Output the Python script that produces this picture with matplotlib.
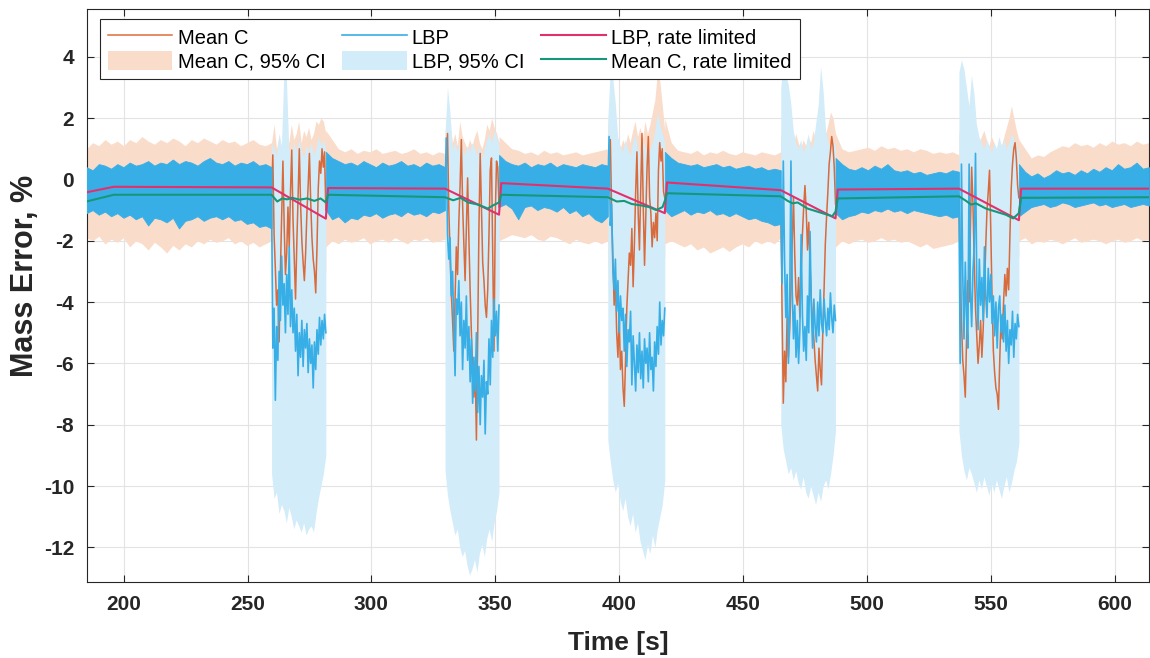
import numpy as np
import matplotlib
matplotlib.use("Agg")
import matplotlib.pyplot as plt

plt.rcParams['font.family'] = ['Liberation Sans', 'DejaVu Sans']
plt.rcParams['axes.unicode_minus'] = False

# time spans of the quiet and the disturbed parts of the run [s]
stable_span = [(185.0, 259.7), (281.6, 329.7), (351.5, 395.4), (418.4, 465.2), (487.3, 537.1), (561.3, 613.8)]
wild_span = [(259.7, 281.6), (329.7, 351.5), (395.4, 418.4), (465.2, 487.3), (537.1, 561.3)]

# quiet parts: envelope of the LBP signal and of the Mean C 95% CI
lbp_band_hi = [
    [0.4, 0.3, 0.5, 0.45, 0.35, 0.5, 0.4, 0.55, 0.45, 0.5, 0.6, 0.45, 0.55, 0.5, 0.65, 0.5, 0.6, 0.55, 0.45, 0.6, 0.7, 0.55, 0.5, 0.6, 0.45, 0.55, 0.5, 0.6, 0.45, 0.5, 0.4],
    [0.9, 0.7, 0.6, 0.5, 0.55, 0.45, 0.6, 0.5, 0.4, 0.55, 0.45, 0.5, 0.6, 0.45, 0.5, 0.4, 0.55, 0.45, 0.5, 0.4],
    [0.8, 0.6, 0.5, 0.45, 0.55, 0.4, 0.5, 0.45, 0.55, 0.4, 0.5, 0.45, 0.4, 0.5, 0.45, 0.4, 0.5, 0.45],
    [0.9, 0.7, 0.55, 0.5, 0.45, 0.5, 0.4, 0.45, 0.5, 0.4, 0.45, 0.35, 0.4, 0.45, 0.35, 0.4, 0.3, 0.35, 0.3],
    [0.7, 0.5, 0.35, 0.3, 0.4, 0.3, 0.45, 0.35, 0.5, 0.3, 0.25, 0.3, 0.2, 0.25, 0.15, 0.2, 0.25, 0.2, 0.3, 0.25],
    [0.5, 0.25, 0.1, 0.2, 0.05, 0.15, 0.3, 0.2, 0.25, 0.15, 0.3, 0.2, 0.35, 0.25, 0.4, 0.3, 0.5, 0.35, 0.4, 0.55, 0.35, 0.4],
]
lbp_band_lo = [
    [-1.1, -1.0, -1.15, -1.05, -1.2, -1.1, -1.25, -1.15, -1.3, -1.2, -1.5, -1.25, -1.3, -1.4, -1.25, -1.6, -1.35, -1.3, -1.2, -1.35, -1.25, -1.2, -1.3, -1.2, -1.35, -1.3, -1.45, -1.4, -1.55, -1.5, -1.6],
    [-1.0, -1.3, -1.2, -1.4, -1.25, -1.3, -1.15, -1.2, -1.1, -1.25, -1.15, -1.1, -1.2, -1.05, -1.15, -1.1, -1.2, -1.05, -1.1, -1.0],
    [-0.9, -0.8, -0.95, -1.3, -0.9, -0.85, -1.0, -0.9, -0.95, -1.05, -0.9, -1.1, -1.0, -1.2, -1.1, -1.3, -1.4, -1.2],
    [-1.0, -1.2, -1.1, -1.0, -1.15, -1.05, -1.1, -1.0, -1.15, -1.1, -1.2, -1.1, -1.2, -1.3, -1.25, -1.35, -1.4, -1.5, -1.45],
    [-1.1, -1.3, -1.2, -1.15, -1.05, -1.1, -1.0, -1.05, -0.95, -1.05, -1.0, -1.1, -1.0, -1.05, -1.1, -1.15, -1.2, -1.15, -1.25, -1.2],
    [-1.2, -1.05, -0.9, -0.85, -0.8, -0.9, -0.85, -0.75, -0.8, -0.9, -0.85, -0.8, -0.75, -0.85, -0.8, -0.9, -0.85, -0.8, -0.9, -0.85, -0.8, -0.85],
]
meanc_ci_hi_stable = [
    [1.0, 1.2, 1.1, 1.3, 1.15, 1.25, 1.1, 1.3, 1.2, 1.4, 1.25, 1.15, 1.3, 1.2, 1.35, 1.25, 1.1, 1.3, 1.2, 1.35, 1.25, 1.15, 1.3, 1.2, 1.25, 1.1, 1.2, 1.3, 1.15, 1.1, 1.2],
    [1.6, 1.3, 1.0, 0.9, 1.0, 0.85, 0.95, 0.9, 1.0, 0.85, 0.9, 0.95, 0.85, 0.9, 1.0, 0.85, 0.9, 0.8, 0.9, 0.85],
    [1.4, 1.2, 1.0, 0.95, 0.85, 0.9, 0.8, 0.95, 0.85, 0.9, 0.8, 0.85, 0.9, 0.8, 0.85, 0.9, 0.95, 1.0],
    [2.0, 1.2, 0.95, 0.9, 0.85, 0.95, 0.8, 0.9, 0.85, 0.95, 0.85, 0.8, 0.9, 0.85, 0.8, 0.9, 0.85, 0.8, 0.9],
    [1.5, 1.0, 0.9, 0.95, 1.0, 1.05, 0.95, 1.1, 1.0, 1.05, 0.95, 1.0, 0.9, 1.0, 0.95, 0.85, 0.9, 0.85, 0.9, 0.8],
    [1.3, 1.0, 0.7, 0.8, 0.75, 0.9, 1.0, 1.1, 1.05, 1.2, 1.1, 1.15, 1.05, 1.2, 1.1, 1.25, 1.15, 1.2, 1.1, 1.25, 1.15, 1.2],
]
meanc_ci_lo_stable = [
    [-1.9, -2.0, -1.85, -2.1, -1.95, -2.05, -1.9, -2.2, -2.0, -2.1, -2.3, -2.05, -2.2, -2.4, -2.15, -2.3, -2.1, -2.2, -2.0, -2.1, -1.95, -2.05, -2.0, -1.9, -2.1, -2.0, -2.15, -2.05, -2.2, -2.1, -2.0],
    [-2.2, -2.0, -2.1, -1.95, -2.05, -2.0, -1.9, -2.1, -2.0, -1.95, -2.05, -1.9, -2.0, -2.1, -1.95, -2.0, -1.9, -2.05, -2.0, -1.95],
    [-2.0, -1.9, -1.8, -1.85, -1.9, -1.8, -1.95, -2.0, -1.85, -1.9, -2.0, -2.1, -1.95, -2.05, -2.1, -2.0, -2.1, -2.0],
    [-2.1, -2.0, -2.1, -2.2, -2.1, -2.3, -2.2, -2.4, -2.3, -2.2, -2.35, -2.2, -2.1, -2.2, -2.0, -2.1, -2.0, -2.1, -1.9],
    [-2.2, -2.0, -2.1, -2.0, -1.95, -2.05, -2.0, -1.9, -2.0, -1.95, -2.05, -2.0, -2.1, -2.2, -2.1, -2.25, -2.2, -2.15, -2.1, -2.0],
    [-2.0, -1.9, -2.1, -2.0, -2.05, -1.95, -2.0, -2.1, -2.0, -1.9, -2.05, -2.0, -1.95, -2.0, -2.1, -2.0, -1.95, -2.05, -2.0, -1.9, -2.0, -1.95],
]

# disturbed parts: LBP and Mean C signals (~0.5 s samples)
lbp_wild = [
    [-0.6, -5.5, -4.2, -7.2, -4.8, -5.9, -3.0, -4.6, -2.5, -4.1, -3.4, -5.0, -3.1, -4.4, -2.2, -4.8, -3.6, -5.0, -4.2, -5.6, -4.4, -6.4, -5.0, -5.8, -4.6, -6.1, -4.9, -5.5, -4.7, -6.3, -5.2, -6.0, -5.4, -6.8, -5.3, -6.2, -4.9, -5.7, -4.5, -5.4, -4.6, -5.2, -4.4, -5.0],
    [-0.6, 1.35, -1.8, -2.6, -1.9, -3.8, -3.0, -4.7, -6.4, -3.9, -4.4, -3.3, -5.1, -4.0, -6.2, -4.6, -5.5, -3.8, -5.9, -4.8, -6.6, -5.2, -7.3, -5.8, -6.9, -5.0, -7.6, -6.1, -8.0, -6.4, -7.1, -5.9, -8.3, -6.6, -7.0, -5.2, -6.7, -4.6, -5.8, -3.9, -5.1, -4.3, -5.6, -4.1],
    [-0.6, 1.4, -1.5, -0.8, -2.9, -3.6, -2.6, -4.3, -3.3, -5.0, -3.8, -4.6, -4.2, -5.6, -4.4, -6.1, -4.9, -5.3, -4.3, -6.7, -5.1, -6.0, -6.9, -5.4, -6.3, -5.0, -6.5, -5.6, -6.8, -5.2, -6.0, -5.5, -6.6, -5.0, -6.2, -5.8, -6.9, -5.3, -6.1, -4.8, -5.7, -4.0, -5.4, -4.6, -5.1, -4.2],
    [-0.6, -3.4, 0.6, -2.7, -4.5, -3.1, -6.0, -4.2, 0.6, -3.6, -5.2, -4.1, -5.8, -4.6, -6.0, -4.9, -1.8, -4.4, -5.6, -4.8, -5.9, -3.8, -5.0, -1.7, -4.2, -5.5, -3.9, -4.8, -5.3, -4.0, -5.1, -3.6, -4.7, -5.0, -3.9, -4.6, -5.1, -4.2, -4.9, -3.7, -4.5, -5.0, -4.1, -4.6],
    [-0.6, -6.0, 0.5, -3.1, -5.2, -2.7, -4.4, -5.5, 0.5, -3.6, -4.8, -3.0, -2.2, 0.85, -3.4, -4.9, -2.6, -4.1, -3.2, -4.6, -2.2, -3.8, -4.5, -2.9, -4.0, -3.1, -4.7, -3.8, -5.1, -4.0, -5.5, -4.2, -3.8, -5.0, -4.4, -5.3, -4.1, -5.6, -4.6, -6.0, -4.9, -5.4, -4.3, -5.8, -4.7, -5.2, -4.4, -4.8],
]
meanc_wild = [
    [-0.5, 0.8, -1.8, -2.9, -4.1, -3.6, -5.3, -3.0, -1.2, 0.6, -1.5, -3.1, -2.4, -0.9, -2.2, -0.4, 0.96, -1.3, -2.6, -3.9, -2.1, -0.6, 1.0, -0.8, -2.0, -2.7, -3.3, -2.4, -1.1, -0.2, 0.85, -0.7, -1.9, -2.6, -3.0, -3.7, -2.2, -0.3, 0.6, 0.2, 1.0, 0.4, 0.9, -1.0],
    [-0.5, 0.4, 1.5, -0.9, -2.4, -3.7, -4.6, -5.6, -3.9, -2.2, -3.1, -1.4, -0.2, 1.3, -0.8, -2.1, -3.3, -1.6, 0.05, -1.9, -3.6, -5.0, -6.2, -7.1, -6.0, -8.5, -5.2, -1.6, 0.85, -0.9, -2.7, -3.3, -4.1, -4.5, -3.6, -1.8, 0.3, 0.7, -2.5, -5.6, -1.2, 0.6, 0.4, -0.9],
    [-0.5, 0.6, 1.3, -1.0, -2.6, -4.1, -3.2, -5.0, -5.8, -4.5, -6.2, -5.6, -6.8, -7.4, -5.9, -4.2, -3.3, -2.4, -2.8, -1.6, -3.5, -2.1, -0.4, 0.9, -1.1, -2.3, -0.3, 1.5, -0.9, -2.8, -1.2, 0.4, 1.4, -0.6, -1.1, -2.2, -1.4, -1.9, -1.1, -2.0, 0.3, 1.2, 0.6, 1.0, -0.4, -0.6],
    [-0.5, -4.2, -7.3, -5.6, -6.6, -4.4, -5.8, -4.9, -3.6, -2.0, -0.6, -2.5, -3.8, -4.1, -3.2, -4.5, -3.0, -1.8, -0.9, -0.2, -1.0, -2.3, -1.4, -2.8, -3.9, -4.6, -5.2, -5.9, -6.4, -6.9, -5.5, -6.2, -6.7, -5.0, -3.6, -2.1, -1.2, -0.4, 0.5, 0.9, 1.4, 1.1, 0.4, -0.8],
    [-0.5, -2.8, -4.6, -5.9, -6.4, -7.1, -5.2, -3.3, -4.0, -1.6, 0.4, -0.8, -2.7, -4.2, -5.1, -6.0, -5.4, -4.6, -5.8, -4.9, -3.6, -2.2, -1.0, -0.4, 0.3, -1.7, -3.9, -5.6, -6.3, -6.8, -7.0, -7.5, -5.9, -4.5, -5.2, -4.0, -3.1, -3.8, -2.9, -3.6, -1.8, -0.3, 0.5, 1.0, 1.2, 0.7, -0.2, -0.6],
]

# disturbed parts: confidence bands (~1 s samples)
lbp_ci_hi = [
    [1.2, 1.0, 0.8, 1.5, 1.1, 3.5, 3.3, 1.0, 0.8, 1.2, 0.9, 1.3, 1.0, 0.7, 1.1, 0.9, 1.2, 0.8, 1.0, 1.4, 1.1, 1.3, 1.0],
    [1.5, 3.0, 2.2, 1.0, 1.2, 0.9, 1.3, 1.0, 0.8, 1.1, 0.9, 1.2, 1.0, 0.8, 1.1, 0.7, 1.0, 1.3, 1.5, 1.2, 1.6, 1.4, 1.1],
    [2.0, 3.6, 3.3, 2.5, 1.4, 1.1, 0.9, 1.3, 1.0, 0.8, 1.2, 1.5, 1.0, 0.9, 1.3, 1.1, 0.8, 1.0, 1.2, 1.6, 2.2, 1.8, 1.5, 1.2],
    [3.0, 3.9, 3.4, 3.1, 2.5, 1.6, 1.2, 1.0, 1.3, 0.9, 1.1, 1.5, 1.0, 1.2, 1.8, 2.4, 3.7, 2.9, 1.6, 1.2, 1.0, 1.3, 1.1],
    [3.5, 3.9, 3.6, 3.0, 2.4, 3.4, 2.8, 1.8, 1.4, 1.2, 1.0, 1.3, 1.1, 0.9, 1.2, 1.0, 1.4, 1.1, 1.3, 1.0, 1.2, 1.5, 1.3, 1.1, 0.9],
]
lbp_ci_lo = [
    [-9.6, -10.4, -10.2, -10.9, -10.6, -10.8, -11.2, -10.7, -11.0, -11.4, -11.1, -11.3, -11.5, -11.2, -11.6, -11.4, -11.3, -11.5, -10.9, -10.4, -10.0, -9.6, -9.0],
    [-9.5, -10.3, -10.8, -11.2, -11.6, -11.4, -12.0, -12.3, -12.1, -12.6, -12.9, -12.7, -12.4, -12.8, -12.2, -11.9, -12.3, -11.7, -11.4, -11.8, -11.2, -10.8, -10.2],
    [-8.5, -9.2, -9.8, -10.2, -9.9, -10.5, -10.8, -10.4, -11.0, -11.3, -10.9, -11.5, -11.2, -11.8, -12.1, -12.4, -11.9, -12.2, -11.6, -12.0, -11.4, -11.0, -10.6, -9.8],
    [-8.0, -8.8, -9.2, -9.6, -9.4, -9.8, -9.5, -9.9, -10.1, -9.7, -10.2, -10.4, -10.0, -10.3, -10.6, -10.2, -10.5, -10.0, -9.8, -10.1, -9.6, -9.0, -8.2],
    [-8.2, -9.0, -9.5, -9.8, -9.4, -9.6, -9.9, -10.2, -9.8, -10.1, -9.7, -10.0, -10.3, -9.9, -10.2, -9.8, -10.1, -10.4, -10.0, -9.7, -10.2, -9.9, -9.5, -9.2, -8.6],
]
meanc_ci_hi_wild = [
    [1.2, 1.8, 1.0, 1.4, 1.0, 1.3, 1.6, 1.2, 1.8, 1.3, 1.5, 1.9, 1.2, 1.6, 1.4, 1.7, 1.3, 1.5, 1.9, 1.8, 2.0, 1.9, 1.5],
    [1.5, 2.2, 1.8, 1.2, 1.5, 1.1, 1.9, 1.4, 1.2, 1.0, 1.3, 1.1, 1.4, 1.6, 1.2, 1.0, 1.3, 1.8, 1.6, 2.0, 1.7, 1.5, 1.2],
    [1.8, 2.5, 2.0, 1.4, 1.2, 1.0, 1.3, 1.1, 1.5, 1.2, 1.6, 1.9, 1.4, 1.7, 1.3, 1.9, 1.5, 1.8, 2.2, 2.6, 3.5, 3.2, 2.4, 1.6],
    [1.4, 1.8, 1.2, 1.0, 1.3, 1.1, 1.5, 1.2, 1.0, 1.3, 1.1, 1.4, 1.2, 1.6, 1.3, 1.1, 1.4, 1.2, 1.5, 1.8, 2.2, 2.0, 1.5],
    [1.5, 1.8, 1.4, 1.2, 1.6, 1.3, 1.1, 1.5, 1.2, 1.4, 1.6, 1.3, 1.1, 1.4, 1.2, 1.0, 1.3, 1.1, 1.4, 1.7, 2.0, 2.4, 2.0, 1.6, 1.3],
]
meanc_ci_lo_wild = [
    [-2.5, -7.0, -7.5, -6.8, -7.2, -6.5, -6.9, -7.4, -6.8, -7.1, -6.6, -7.0, -6.4, -6.8, -7.2, -6.9, -6.5, -6.2, -5.8, -4.5, -3.8, -3.5, -3.0],
    [-2.5, -6.5, -7.2, -7.6, -6.8, -7.0, -6.6, -7.3, -8.0, -9.0, -9.5, -10.0, -9.6, -9.2, -8.5, -7.8, -7.2, -7.0, -7.5, -7.8, -6.5, -5.0, -3.5],
    [-2.5, -7.5, -8.5, -9.0, -8.6, -8.2, -7.8, -7.0, -6.5, -6.0, -6.4, -5.8, -5.5, -6.0, -5.6, -5.2, -5.5, -4.8, -4.5, -4.2, -3.8, -3.2, -2.8, -2.5],
    [-2.5, -8.5, -9.0, -8.2, -7.5, -7.0, -6.5, -6.0, -5.5, -5.8, -6.2, -6.8, -7.2, -7.8, -8.2, -8.6, -8.2, -7.6, -6.5, -5.0, -3.8, -3.2, -2.8],
    [-2.5, -8.0, -8.5, -8.2, -7.5, -7.0, -6.5, -6.8, -7.2, -6.0, -5.5, -6.2, -6.8, -7.4, -8.0, -8.4, -8.2, -7.5, -6.5, -5.5, -4.5, -3.8, -3.2, -2.8, -2.5],
]

# rate limited estimates (break points)
lbp_rl_t = [185, 196, 259.7, 281.6, 282.5, 329.7, 351.5, 352.4, 395.4, 418.4, 419.3, 465.2, 487.3, 488.2, 537.1, 561.3, 562.2, 613.8]
lbp_rl_v = [-0.42, -0.24, -0.26, -1.28, -0.28, -0.3, -1.15, -0.12, -0.3, -1.1, -0.1, -0.35, -1.27, -0.33, -0.3, -1.33, -0.3, -0.3]
meanc_rl_t = [185, 196, 259.7, 262, 264, 266, 268, 271, 274, 277, 279.5, 281.6, 282.5, 329.7,
              333, 336, 339, 343, 347, 349, 351.5, 352.4, 395.4,
              399, 402, 405, 409, 412, 415, 417.5, 418.4, 419.3, 465.2,
              468, 470, 472, 476, 480, 484, 486, 487.3, 488.2, 537.1,
              540, 542, 544, 548, 552, 556, 559, 561.3, 562.2, 613.8]
meanc_rl_v = [-0.72, -0.5, -0.5, -0.72, -0.62, -0.65, -0.6, -0.66, -0.62, -0.7, -0.62, -0.75, -0.5, -0.58,
              -0.68, -0.6, -0.75, -0.82, -0.95, -0.85, -0.75, -0.5, -0.58,
              -0.72, -0.7, -0.8, -0.85, -0.9, -1.0, -0.9, -0.7, -0.45, -0.55,
              -0.7, -0.78, -0.75, -0.95, -1.05, -1.15, -1.2, -1.05, -0.62, -0.55,
              -0.7, -0.82, -0.78, -0.95, -1.05, -1.15, -1.27, -1.1, -0.6, -0.58]

x_ticks = [200, 250, 300, 350, 400, 450, 500, 550, 600]
y_ticks = [-12, -10, -8, -6, -4, -2, 0, 2, 4]

ORANGE = '#D95319'
BLUE_DENSE = '#38aee6'
BLUE_LIGHT = '#d3ecf9'
PEACH = '#fadccb'
PINK = '#E2306C'
GREEN = '#17977A'
INK = '#262626'


def span_t(span, vals):
    return np.linspace(span[0], span[1], len(vals))


fig = plt.figure(figsize=(11.5, 6.58), dpi=100)
ax = fig.add_axes([0.0754, 0.1155, 0.9237, 0.8704])

# Mean C 95% CI, one continuous patch
ci_t, ci_hi, ci_lo = [], [], []
for i, span in enumerate(stable_span):
    ci_t.append(span_t(span, meanc_ci_hi_stable[i]))
    ci_hi.append(meanc_ci_hi_stable[i])
    ci_lo.append(meanc_ci_lo_stable[i])
    if i < len(wild_span):
        ci_t.append(span_t(wild_span[i], meanc_ci_hi_wild[i]))
        ci_hi.append(meanc_ci_hi_wild[i])
        ci_lo.append(meanc_ci_lo_wild[i])
h_meanc_ci = ax.fill_between(np.concatenate(ci_t), np.concatenate(ci_lo), np.concatenate(ci_hi),
                             color=PEACH, lw=0, zorder=2)

# LBP 95% CI
for span, hi, lo in zip(wild_span, lbp_ci_hi, lbp_ci_lo):
    h_lbp_ci = ax.fill_between(span_t(span, hi), lo, hi, color=BLUE_LIGHT, lw=0, zorder=3)

# Mean C signal (only seen in the disturbed parts)
for span, vals in zip(wild_span, meanc_wild):
    h_meanc, = ax.plot(span_t(span, vals), vals, color=ORANGE, lw=1.1, alpha=0.85, zorder=4)

# LBP signal: dense band in the quiet parts, line in the disturbed parts
for span, hi, lo in zip(stable_span, lbp_band_hi, lbp_band_lo):
    ax.fill_between(span_t(span, hi), lo, hi, color=BLUE_DENSE, lw=0.6, edgecolor=BLUE_DENSE, zorder=5)
for span, vals in zip(wild_span, lbp_wild):
    h_lbp, = ax.plot(span_t(span, vals), vals, color=BLUE_DENSE, lw=1.2, zorder=5)

h_lbp_rl, = ax.plot(lbp_rl_t, lbp_rl_v, color=PINK, lw=1.5, zorder=6)
h_meanc_rl, = ax.plot(meanc_rl_t, meanc_rl_v, color=GREEN, lw=1.5, zorder=7)

ax.set_xlim(185.1, 613.8)
ax.set_ylim(-13.13, 5.55)
ax.set_xticks(x_ticks)
ax.set_yticks(y_ticks)
ax.set_axisbelow(True)
ax.grid(True, color='#e3e3e3', lw=0.8)
ax.tick_params(direction='in', length=5, width=0.8, top=True, right=True, colors=INK,
               labelsize=15, pad=9)
for lab in ax.get_xticklabels() + ax.get_yticklabels():
    lab.set_fontweight('bold')
for sp in ax.spines.values():
    sp.set_color(INK)
    sp.set_linewidth(0.8)

ax.set_xlabel('Time [s]', fontsize=19, fontweight='bold', color=INK)
ax.set_ylabel('Mass Error, %', fontsize=22, fontweight='bold', color=INK)
ax.xaxis.set_label_coords(0.5, -0.085)
ax.yaxis.set_label_coords(-0.044, 0.535)

leg = ax.legend([h_meanc, h_meanc_ci, h_lbp, h_lbp_ci, h_lbp_rl, h_meanc_rl],
                ['Mean C', 'Mean C, 95% CI', 'LBP', 'LBP, 95% CI', 'LBP, rate limited', 'Mean C, rate limited'],
                ncol=3, loc='upper left', bbox_to_anchor=(0.0125, 0.983), fontsize=14.5,
                frameon=True, fancybox=False, framealpha=1, edgecolor=INK,
                handlelength=3.2, handleheight=1.1, handletextpad=0.25, columnspacing=0.85,
                labelspacing=0.15, borderpad=0.4, borderaxespad=0)
leg.get_frame().set_linewidth(0.8)
leg.set_zorder(10)

fig.savefig('out.png', dpi=100)
